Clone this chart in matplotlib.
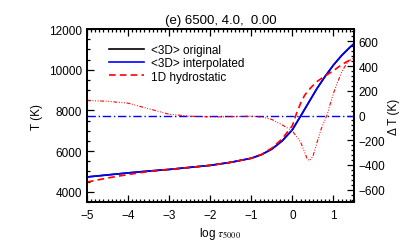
import matplotlib
matplotlib.use("Agg")
import matplotlib.pyplot as plt
from matplotlib.ticker import MultipleLocator, AutoMinorLocator

plt.rcParams["font.family"] = ["Liberation Sans", "DejaVu Sans"]
plt.rcParams["mathtext.fontset"] = "stix"

# <3D> temperature (blue, black hidden underneath)
x_3d = [-5.0, -4.5, -4.0, -3.5, -3.0, -2.5, -2.0, -1.5, -1.0, -0.75, -0.5, -0.25,
        0.0, 0.2, 0.4, 0.6, 0.8, 1.0, 1.2, 1.4, 1.5]
t_3d = [4730, 4830, 4930, 5020, 5100, 5200, 5300, 5450, 5650, 5830, 6100, 6500,
        7050, 7720, 8400, 9080, 9680, 10230, 10700, 11100, 11280]

# 1D hydrostatic temperature (red dashed)
x_1d = [-5.0, -4.5, -4.0, -3.5, -3.0, -2.5, -2.0, -1.5, -1.0, -0.75, -0.5, -0.25,
        0.0, 0.1, 0.2, 0.3, 0.45, 0.6, 0.8, 1.0, 1.2, 1.4, 1.5]
t_1d = [4480, 4680, 4850, 5000, 5100, 5200, 5300, 5450, 5650, 5840, 6150, 6600,
        7250, 7850, 8350, 8750, 9120, 9420, 9700, 9950, 10250, 10480, 10570]

# Delta T (red dash-dot-dot, right axis)
x_dt = [-5.0, -4.5, -4.0, -3.5, -3.0, -2.5, -2.0, -1.5, -1.0, -0.7, -0.5, -0.2,
        0.0, 0.2, 0.36, 0.42, 0.5, 0.6, 0.7, 0.8, 0.85, 0.9, 1.0, 1.1, 1.2, 1.3, 1.4, 1.5]
dt = [122, 115, 100, 55, 10, -5, -12, -10, -5, -15, -32, -85,
      -125, -215, -350, -365, -330, -218, -110, -30, 8, 70, 180, 270, 350, 410, 445, 465]

fig = plt.figure(figsize=(4.15, 2.53), dpi=100)
ax = fig.add_axes([0.2096, 0.1976, 0.6434, 0.6838])
ax2 = ax.twinx()

ax.plot(x_3d, t_3d, color="black", lw=1.2, label="<3D> original")
ax.plot(x_3d, t_3d, color="#0000ff", lw=1.2, label="<3D> interpolated")
ax.plot(x_1d, t_1d, color="#ff0000", lw=1.2, ls=(0, (4, 2.5)), label="1D hydrostatic")

ax2.axhline(0, color="#0000ff", lw=1.0, ls=(0, (6, 2, 1, 2)))
ax2.plot(x_dt, dt, color="#ff0000", lw=0.8,
         ls=(0, (3.5, 1.5, 0.8, 1.5, 0.8, 1.5, 0.8, 1.5)))

ax.set_xlim(-5, 1.5)
ax.set_ylim(3500, 12000)
ax2.set_ylim(-700, 700)

ax.xaxis.set_major_locator(MultipleLocator(1))
ax.xaxis.set_minor_locator(AutoMinorLocator(10))
ax.yaxis.set_major_locator(MultipleLocator(2000))
ax.yaxis.set_minor_locator(AutoMinorLocator(4))
ax2.yaxis.set_major_locator(MultipleLocator(200))
ax2.yaxis.set_minor_locator(AutoMinorLocator(5))

ax.tick_params(which="both", direction="in", top=True, right=False, labelsize=8.5, width=0.9)
ax.tick_params(which="major", length=5)
ax.tick_params(which="minor", length=2.5)
ax2.tick_params(which="both", direction="in", labelsize=8.5, width=0.9)
ax2.tick_params(which="major", length=5)
ax2.tick_params(which="minor", length=2.5)
ax.xaxis.set_tick_params(pad=5)
ax.set_xticks(range(-5, 2))
ax.set_xticklabels([str(v).replace("-", "\u2212") for v in range(-5, 2)])

for a in (ax, ax2):
    for s in a.spines.values():
        s.set_linewidth(1.3)

ax.set_xlabel(r"log $\tau_{5000}$", fontsize=8.5, labelpad=3)
ax.set_ylabel("T (K)", fontsize=8.5)
ax2.set_ylabel("\u0394 T (K)", fontsize=8.5, labelpad=2)
ax.set_title("(e) 6500, 4.0,  0.00", fontsize=9.5, pad=4)

ax.legend(loc="upper left", frameon=False, fontsize=8.5, handlelength=3.0,
          handletextpad=0.6, labelspacing=0.1, borderaxespad=0.3,
          bbox_to_anchor=(0.05, 0.96))

fig.savefig("out.png", dpi=100)
